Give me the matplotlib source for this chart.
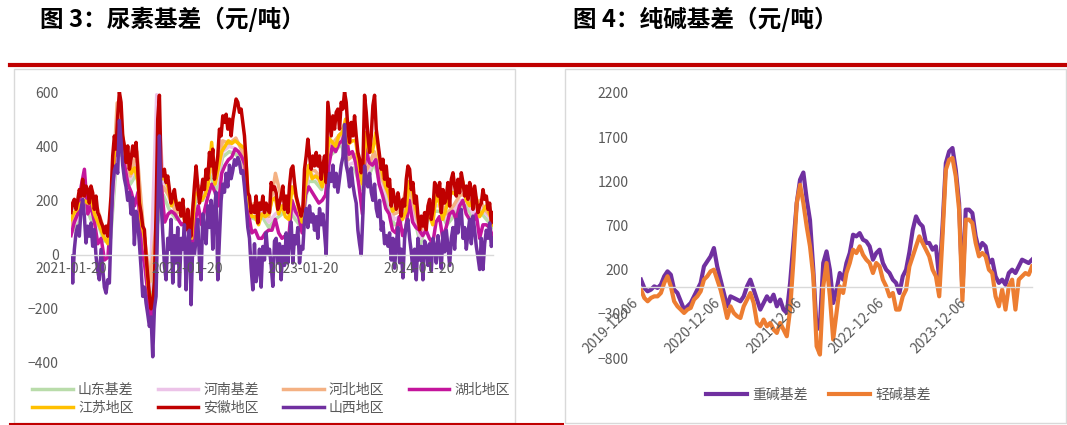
import numpy as np
import pandas as pd
import matplotlib
matplotlib.use("Agg")
import matplotlib.pyplot as plt
from matplotlib.patches import Rectangle
from matplotlib.lines import Line2D

# ---- 图3 尿素基差 (元/吨) ----
urea_start, urea_end = "2021-01-20", "2024-09-09"
urea_ticks = ["2021-01-20", "2022-01-20", "2023-01-20", "2024-01-20"]

anhui = [155, 190, 204, 167, 200, 240, 216, 278, 216, 253, 240, 190, 253, 228, 167, 216, 155, 142, 120, 105,
         80, 105, 68, 130, 216, 364, 438, 389, 512, 600, 562, 438, 401, 340, 401, 315, 352, 401, 364, 414,
         315, 190, 155, 105, 92, -6, -80, -150, -200, -180, -100, 150, 500, 588, 315, 290, 315, 266, 290, 240,
         190, 216, 240, 190, 167, 190, 142, 204, 130, 92, 167, 105, 68, 167, 253, 327, 253, 190, 228, 278,
         240, 315, 278, 377, 327, 389, 278, 315, 364, 463, 438, 512, 488, 518, 463, 500, 438, 500, 537, 574,
         562, 525, 537, 488, 438, 340, 228, 216, 155, 179, 155, 216, 117, 190, 167, 216, 155, 190, 167, 155,
         266, 240, 250, 228, 167, 190, 216, 253, 167, 216, 155, 253, 315, 327, 266, 216, 190, 167, 142, 167,
         315, 364, 426, 364, 315, 364, 327, 377, 327, 364, 278, 327, 364, 266, 562, 500, 438, 512, 463, 525,
         537, 463, 562, 537, 600, 562, 463, 414, 488, 438, 512, 438, 377, 352, 302, 327, 588, 525, 438, 377,
         438, 550, 588, 463, 414, 364, 315, 352, 278, 327, 253, 278, 179, 240, 204, 167, 228, 190, 142, 204,
         179, 278, 327, 315, 240, 266, 190, 216, 142, 92, 142, 105, 155, 92, 179, 204, 130, 167, 266, 253,
         216, 266, 155, 240, 190, 216, 266, 179, 278, 302, 253, 216, 278, 228, 302, 266, 216, 253, 204, 266,
         240, 167, 253, 204, 155, 179, 190, 240, 204, 216, 167, 190, 117, 155]
shanxi = [-6, -105, 19, 80, 105, 68, 167, 204, 142, 43, 105, 68, 117, 31, 92, -6, -60, -93, 19, -50,
          -120, -142, -93, -105, 90, 250, 310, 330, 300, 495, 420, 330, 280, 250, 200, 230, 150, 210, 37, 160,
          120, 40, -50, -154, -120, -179, -220, -265, -230, -377, -200, -154, 150, 438, 200, 80, -40, -93, 60, 19,
          130, -105, 70, -31, 100, -117, 60, 19, 110, -130, 50, 90, -185, 40, 0, 56, 130, -20, -93, 150,
          90, 40, 180, 100, 200, 20, 170, 230, -93, 60, 200, 260, 230, 300, 250, 330, 280, 310, 350, 330,
          358, 340, 300, 310, 250, 180, 100, 60, -50, -130, 40, -100, -60, 20, -120, 30, -20, 80, 0, 20,
          -40, -117, 50, 60, -31, 40, -93, 30, -40, 80, -31, 60, 120, -31, 70, 40, 100, -31, 30, 20,
          130, 170, 100, 180, 120, 150, 90, 140, 60, 170, 110, 150, 80, 0, 240, 300, 270, 330, 250, 300,
          230, 280, 330, 360, 480, 330, 300, 250, 320, 260, 220, 190, 90, 40, 0, 150, 327, 280, 250, 300,
          230, 200, 260, 170, 140, 200, 90, 120, 40, 70, 31, 80, -20, 60, -50, 40, 100, -30, 20, -86,
          60, 110, 130, 60, 10, -60, 20, -93, 60, -20, 30, -93, 50, 31, -40, 40, -60, 60, 30, -31,
          70, 20, -50, 80, 10, 90, 30, -40, 60, 100, 20, 130, 80, 150, 167, 60, 100, 20, 80, 130,
          40, 142, 90, 30, -10, -55, 60, -55, 40, 90, 60, 117, 30, 60]
jiangsu = [130, 155, 170, 190, 200, 190, 210, 150, 120, 90, 60, 40, 180, 390, 470, 480, 370, 360, 300, 320,
           270, 120, 60, -110, -190, -120, 420, 280, 280, 250, 180, 210, 180, 190, 120, 140, 60, 220, 230, 200,
           220, 260, 414, 260, 320, 380, 400, 420, 410, 420, 410, 400, 390, 200, 140, 140, 110, 150, 140, 150,
           200, 210, 150, 180, 140, 130, 250, 220, 170, 120, 260, 330, 280, 290, 280, 250, 300, 430, 415, 400,
           440, 450, 500, 410, 420, 420, 330, 260, 450, 380, 380, 450, 360, 300, 250, 220, 160, 170, 190, 130,
           160, 270, 230, 170, 120, 110, 130, 150, 110, 220, 190, 130, 170, 220, 230, 220, 240, 270, 200, 180,
           200, 210, 140, 160, 180, 150, 110]
hubei = [70, 120, 150, 250, 315, 150, 180, 120, 40, 60, -20, -10, 150, 360, 380, 460, 330, 260, 230, 180,
         230, 30, -40, -150, -265, -150, 300, 250, 120, 150, 160, 150, 130, 110, 120, 92, 0, 120, 180, 110,
         170, 220, 260, 230, 180, 300, 330, 350, 360, 390, 380, 360, 330, 150, 80, 90, 60, 60, 80, 90,
         90, 130, 80, 60, 70, 60, 200, 160, 140, 80, 220, 250, 230, 210, 190, 200, 220, 330, 400, 380,
         410, 420, 460, 370, 380, 340, 250, 150, 400, 340, 330, 350, 260, 220, 170, 150, 90, 80, 140, 70,
         100, 200, 120, 100, 90, 70, 90, 60, 40, 120, 140, 60, 100, 150, 160, 130, 180, 200, 150, 130,
         120, 150, 60, 110, 110, 100, 60]
hebei = [110, 150, 240, 170, 170, 90, 120, 560, 410, 290, 380, 90, -100, 130, 250, 210, 150, 180, 100, 260,
         240, 330, 280, 420, 410, 430, 380, 180, 190, 190, 140,
         300, 200, 210, 170, 150, 310, 310, 280, 400, 420, 450, 350, 370, 280, 320, 380, 290, 230, 150, 160,
         260, 180, 80, 160, 200, 200, 150, 180, 220, 220, 170, 200, 160, 130]
henan = [100, 130, 220, 150, 140, 70, 90, 420, 390, 280, 330, 60, -130, 590, 280, 200, 160, 180, 90, 240,
         220, 340, 260, 380, 400, 390, 360, 160, 160, 160, 120,
         150, 170, 190, 150, 120, 300, 290, 260, 380, 400, 430, 330, 340, 260, 300, 360, 270, 210, 130, 140,
         240, 160, 60, 140, 180, 180, 130, 160, 200, 200, 150, 180, 150, 120]
shandong = [80, 110, 200, 130, 120, 50, 60, 380, 360, 260, 300, 30, -160, 100, 220, 160, 130, 150, 70, 210,
            200, 300, 240, 360, 380, 370, 340, 140, 130, 140, 100,
            130, 150, 170, 130, 100, 270, 270, 240, 360, 380, 410, 310, 320, 240, 280, 340, 250, 190, 110, 120,
            220, 140, 40, 120, 160, 160, 110, 140, 180, 180, 130, 160, 130, 100]

urea_series = [("山东基差", shandong, "#b9dcaa"), ("河南基差", henan, "#ecc3e8"),
               ("河北地区", hebei, "#f4b183"), ("湖北地区", hubei, "#c4159c"),
               ("江苏地区", jiangsu, "#ffc000"), ("安徽地区", anhui, "#c00000"),
               ("山西地区", shanxi, "#7030a0")]

# ---- 图4 纯碱基差 (元/吨) ----
soda_start, soda_end = "2019-12-06", "2024-09-12"
soda_ticks = ["2019-12-06", "2020-12-06", "2021-12-06", "2022-12-06", "2023-12-06"]

heavy = [87, -7, -45, -26, 11, -7, 30, 125, 181, 143, -26, -64, -158, -252, -215, -177, -102, -26, 49, 237,
         294, 350, 445, 237, 87, -64, -215, -102, -120, -139, -158, -102, 11, 87, -26, -139, -252, -177, -102, -158,
         -83, -215, -139, -252, -290, 50, 500, 954, 1218, 1300, 1000, 760, 200,
         -480, -420, 275, 407, 200, -177, -26, 162, 87, 275, 388, 596, 577, 614, 539, 520, 464, 313, 388, 426,
         275, 200, 162, 87, 49, -64, 125, 200, 400, 650, 803, 728, 690, 502, 502, 426, 464, 100, 690, 1407,
         1539, 1577, 1331, 954, -50, 879, 879, 841, 577, 426, 502, 464, 276, 313, 124, 50, 87, 30, 162, 200,
         162, 237, 313, 294, 275, 313]
light = [-26, -120, -158, -120, -102, -102, -64, 49, 125, 11, -158, -215, -252, -290, -252, -233, -139, -102, -45, 87,
         125, 181, 200, 87, -26, -177, -347, -215, -290, -327, -347, -215, -139, -64, -177, -403, -441, -365, -441, -403,
         -478, -516, -403, -478, -554, -252, 300, 954, 1161, 954, 690, 464, 124,
         -667, -761, 11, 275, -102, -591, -290, 11, -64, 162, 275, 426, 388, 464, 369, 313, 275, 162, 275, 237,
         87, 11, -102, -64, -252, -252, -102, -26, 237, 350, 464, 577, 501, 426, 350, 200, 125, -102, 577, 1331,
         1445, 1464, 1256, 879, -150, 766, 766, 728, 502, 351, 389, 351, 200, 162, -102, -215, -26, -252, 11, 87,
         -252, 87, 125, 162, 143, 237]

soda_series = [("重碱基差", heavy, "#7030a0"), ("轻碱基差", light, "#ed7d31")]

plt.rcParams['font.family'] = ['Noto Sans CJK SC', 'DejaVu Sans']
GRAY = "#595959"
W, H = 1067, 425

def fx(px):
    return px / W

def fy(py):
    return 1 - py / H

fig = plt.figure(figsize=(W / 100, H / 100), dpi=100)

# frames, red rules and titles
for x0, x1 in [(14, 515), (565, 1066)]:
    fig.add_artist(Rectangle((fx(x0), fy(423)), fx(x1) - fx(x0), fy(69) - fy(423),
                             transform=fig.transFigure, fill=False, edgecolor="#d9d9d9", lw=1))
fig.add_artist(Line2D([fx(10), 1], [fy(65), fy(65)], transform=fig.transFigure, color="#c00000", lw=3))
fig.add_artist(Line2D([fx(10), fx(563)], [fy(423.5), fy(423.5)], transform=fig.transFigure,
                      color="#c00000", lw=1.5))
fig.text(fx(40), fy(19), "图 3：尿素基差（元/吨）", fontsize=17, fontweight="bold", va="center", ha="left")
fig.text(fx(573), fy(19), "图 4：纯碱基差（元/吨）", fontsize=17, fontweight="bold", va="center", ha="left")


def style_axis(ax, start, end, ticks, ylim, yticks):
    ax.set_xlim(pd.Timestamp(start), pd.Timestamp(end))
    ax.set_ylim(*ylim)
    ax.set_yticks(yticks)
    ax.set_xticks([pd.Timestamp(t) for t in ticks])
    ax.set_xticklabels(ticks)
    for s in ["top", "right", "left"]:
        ax.spines[s].set_visible(False)
    ax.spines["bottom"].set_position(("data", 0))
    ax.spines["bottom"].set_color("#d9d9d9")
    ax.spines["bottom"].set_linewidth(1)
    ax.tick_params(length=0, colors=GRAY, labelsize=10)
    ax.tick_params(axis="y", pad=9)
    ax.set_axisbelow(False)
    ax.patch.set_alpha(0)


# left chart
ax1 = fig.add_axes([fx(71), fy(363), fx(493) - fx(71), fy(92) - fy(363)])
urea_lines = {}
for name, vals, col in urea_series:
    dates = pd.date_range(urea_start, urea_end, periods=len(vals))
    urea_lines[name], = ax1.plot(dates, vals, color=col, lw=2.5, label=name, solid_joinstyle="round")
style_axis(ax1, urea_start, urea_end, urea_ticks, (-400, 600), [-400, -200, 0, 200, 400, 600])
ax1.tick_params(axis="x", pad=5)

# right chart
ax2 = fig.add_axes([fx(641), fy(358), fx(1032) - fx(641), fy(93) - fy(358)])
for name, vals, col in soda_series:
    dates = pd.date_range(soda_start, soda_end, periods=len(vals))
    ax2.plot(dates, vals, color=col, lw=3, label=name, solid_joinstyle="round")
style_axis(ax2, soda_start, soda_end, soda_ticks, (-800, 2200), [-800, -300, 200, 700, 1200, 1700, 2200])
ax2.tick_params(axis="x", pad=6)
for lab in ax2.get_xticklabels():
    lab.set_rotation(45)
    lab.set_ha("right")

# legend filled column by column, so order it to read row by row
legend_order = ["山东基差", "江苏地区", "河南基差", "安徽地区", "河北地区", "山西地区", "湖北地区"]
fig.legend([urea_lines[n] for n in legend_order], legend_order, ncol=4, loc="upper left",
           bbox_to_anchor=(fx(32), fy(383)), frameon=False, fontsize=10, labelcolor=GRAY,
           handlelength=2.95, handletextpad=0.36, columnspacing=1.73, labelspacing=0.3,
           borderpad=0, borderaxespad=0)
fig.legend(*ax2.get_legend_handles_labels(), ncol=2, loc="upper center",
           bbox_to_anchor=(fx(818.5), fy(388)), frameon=False, fontsize=10, labelcolor=GRAY,
           handlelength=2.95, handletextpad=0.36, columnspacing=1.58,
           borderpad=0, borderaxespad=0)

fig.savefig("out.png", dpi=100)
